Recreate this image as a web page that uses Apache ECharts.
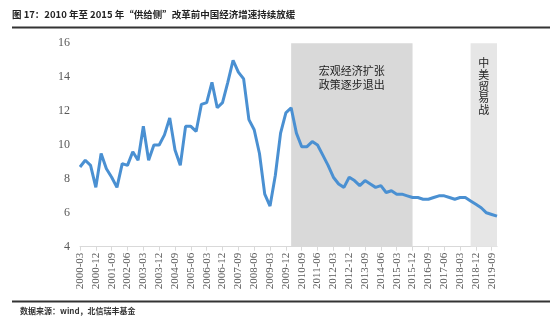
<!DOCTYPE html>
<html>
<head>
<meta charset="utf-8">
<script src="https://cdn.jsdelivr.net/npm/echarts@6/dist/echarts.min.js"></script>
<style>
html,body{margin:0;padding:0;background:#fff;}
#chart{width:550px;height:324px;}
</style>
</head>
<body>
<div id="chart"></div>
<script>
var categories = [
'2000-03','2000-06','2000-09','2000-12','2001-03','2001-06','2001-09','2001-12',
'2002-03','2002-06','2002-09','2002-12','2003-03','2003-06','2003-09','2003-12',
'2004-03','2004-06','2004-09','2004-12','2005-03','2005-06','2005-09','2005-12',
'2006-03','2006-06','2006-09','2006-12','2007-03','2007-06','2007-09','2007-12',
'2008-03','2008-06','2008-09','2008-12','2009-03','2009-06','2009-09','2009-12',
'2010-03','2010-06','2010-09','2010-12','2011-03','2011-06','2011-09','2011-12',
'2012-03','2012-06','2012-09','2012-12','2013-03','2013-06','2013-09','2013-12',
'2014-03','2014-06','2014-09','2014-12','2015-03','2015-06','2015-09','2015-12',
'2016-03','2016-06','2016-09','2016-12','2017-03','2017-06','2017-09','2017-12',
'2018-03','2018-06','2018-09','2018-12','2019-03','2019-06','2019-09','2019-12'
];
var gdpGrowth = [
8.7, 9.1, 8.8, 7.5, 9.5, 8.6, 8.1, 7.5,
8.9, 8.8, 9.6, 9.1, 11.1, 9.1, 10.0, 10.0,
10.6, 11.6, 9.7, 8.8, 11.1, 11.1, 10.8, 12.4,
12.5, 13.7, 12.2, 12.5, 13.7, 15.0, 14.3, 13.9,
11.5, 10.9, 9.5, 7.1, 6.4, 8.2, 10.7, 11.9,
12.2, 10.7, 9.9, 9.9, 10.2, 10.0, 9.4, 8.8,
8.1, 7.7, 7.5, 8.1, 7.9, 7.6, 7.9, 7.7,
7.5, 7.6, 7.2, 7.3, 7.1, 7.1, 7.0, 6.9,
6.9, 6.8, 6.8, 6.9, 7.0, 7.0, 6.9, 6.8,
6.9, 6.9, 6.7, 6.5, 6.3, 6.0, 5.9, 5.8
];
var yTicks = [4, 6, 8, 10, 12, 14, 16];
var band1 = ['2010-03', '2015-12'];
var band1Label = '宏观经济扩张\n政策逐步退出';
var band2 = ['2018-09', '2019-12'];
var band2Label = '中\n美\n贸\n易\n战';
var titleText = '图 17：2010 年至 2015 年“供给侧”改革前中国经济增速持续放缓';
var sourceText = '数据来源：wind，北信瑞丰基金';

var chart = echarts.init(document.getElementById('chart'), null, {renderer: 'canvas'});
var serif = 'Liberation Serif, Times New Roman, serif';
var cjk = 'Noto Sans CJK SC';
chart.setOption({
  animation: false,
  backgroundColor: '#fff',
  title: [{
    text: titleText,
    left: 12, top: 10, padding: 0,
    textStyle: {fontSize: 9.5, fontWeight: 'bold', color: '#222', fontFamily: cjk}
  }, {
    text: sourceText,
    left: 20, top: 307, padding: 0,
    textStyle: {fontSize: 8, fontWeight: 'bold', color: '#333', fontFamily: cjk}
  }],
  graphic: [
    {type: 'line', shape: {x1: 12, y1: 27.5, x2: 550, y2: 27.5}, style: {stroke: '#333', lineWidth: 2}},
    {type: 'line', shape: {x1: 12, y1: 301.5, x2: 550, y2: 301.5}, style: {stroke: '#333', lineWidth: 2}}
  ],
  grid: {left: 80, right: 53, top: 43.3, bottom: 77.3, containLabel: false},
  xAxis: {
    type: 'category',
    data: categories,
    boundaryGap: false,
    axisLine: {show: true, lineStyle: {color: '#d9d9d9', width: 1}},
    axisTick: {show: true, interval: 2, length: 4, lineStyle: {color: '#d9d9d9'}},
    axisLabel: {interval: 2, rotate: 90, fontSize: 11, color: '#595959', fontFamily: serif, margin: 6},
    splitLine: {show: false}
  },
  yAxis: {
    type: 'value',
    min: yTicks[0], max: yTicks[yTicks.length - 1], interval: 2,
    axisLine: {show: false},
    axisTick: {show: false},
    splitLine: {show: false},
    axisLabel: {fontSize: 12, color: '#595959', fontFamily: serif, margin: 10}
  },
  series: [{
    type: 'line',
    data: gdpGrowth,
    symbol: 'none',
    lineStyle: {color: '#4a90d2', width: 3},
    z: 3,
    markArea: {
      silent: true,
      data: [
        [{xAxis: band1[0], itemStyle: {color: '#d9d9d9'},
          label: {show: true, position: 'insideTop', distance: 21, formatter: band1Label,
                  fontSize: 11, lineHeight: 13.5, color: '#222', fontFamily: cjk}},
         {xAxis: band1[1]}],
        [{xAxis: band2[0], itemStyle: {color: '#e6e6e6'},
          label: {show: true, position: 'insideTop', distance: 14, formatter: band2Label,
                  fontSize: 11, lineHeight: 11.7, color: '#222', fontFamily: cjk}},
         {xAxis: band2[1]}]
      ]
    }
  }]
});
</script>
</body>
</html>
